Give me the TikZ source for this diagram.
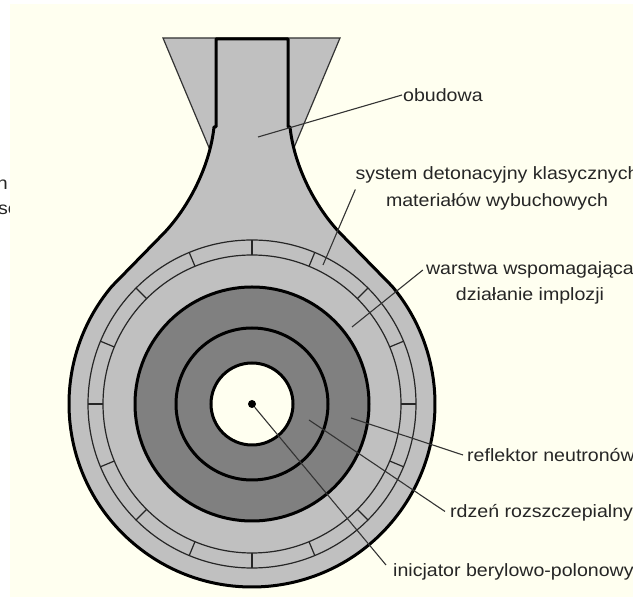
\documentclass[tikz,border=0pt]{standalone}
\usepackage{fontspec}
\setmainfont[FakeStretch=1.1]{Liberation Sans}
\usepackage{xcolor}
\usetikzlibrary{calc, positioning}
\definecolor{paper}{HTML}{FFFFF0}
\definecolor{lightgrey}{HTML}{C0C0C0}
\definecolor{darkgrey}{HTML}{808080}

\begin{document}
\begin{tikzpicture}[
	x=1pt, y=1pt,
	font=\fontsize{17.8}{26.5}\selectfont,
	lab/.style={inner sep=1pt, align=center, text=black!85},
	shell/.style={fill=lightgrey, draw=black, line width=3pt, line join=round},
	ball/.style={draw=black, line width=3pt},
	ring/.style={draw=black!85, line width=1.2pt},
	leader/.style={draw=black!80, line width=1.1pt}
]
\useasboundingbox (0,0) rectangle (633,597);

% cut off text on the left margin
\node[lab, anchor=east] (cutA) at (9,412) {n};
\node[lab, anchor=east] (cutB) at (20,387) {se};
\fill[paper] (10,0) rectangle (633,593);

\coordinate (ctr) at (252,193);

% casing
\draw[fill=lightgrey, draw=black!80, line width=1.2pt] (163,559) -- (340,559) -- (293,447) -- (210,447) -- cycle;
\draw[shell] (216,558) -- (216,470) -- (214,470) .. controls (210,432) and (190,392) .. (165,365)
	-- ($(ctr)+(140:183)$) arc[start angle=140, end angle=400, radius=183]
	-- (339,365) .. controls (314,392) and (294,432) .. (290,470) -- (288,470) -- (288,558) -- cycle;

% detonator ring
\draw[ring] (ctr) circle[radius=164];
\draw[ring] (ctr) circle[radius=149];
\foreach \ang in {0,22.5,...,337.5} {
	\draw[ring] ($(ctr)+(\ang:149)$) -- ($(ctr)+(\ang:164)$);
}

% core
\draw[ball, fill=darkgrey] (ctr) circle[radius=117];
\draw[ball] (ctr) circle[radius=76];
\draw[ball, fill=paper] (ctr) circle[radius=41];
\node[circle, fill=black, inner sep=0pt, minimum size=8pt] (init) at (ctr) {};

% labels
\node[lab, anchor=west] (obudowa) at (402,502) {obudowa};
\node[lab, anchor=center] (system) at (497,408.5) {system detonacyjny klasycznych\\materiałów wybuchowych};
\node[lab, anchor=center] (warstwa) at (530,314) {warstwa wspomagająca\\działanie implozji};
\node[lab, anchor=west] (reflektor) at (466,142) {reflektor neutronów};
\node[lab, anchor=west] (rdzen) at (449,84.5) {rdzeń rozszczepialny};
\node[lab, anchor=west] (inicjator) at (392,25) {inicjator berylowo-polonowy};

\coordinate (pObudowa) at (258,460);
\coordinate (pSystem) at (323,332);
\coordinate (pWarstwa) at (352,270);
\coordinate (pReflektor) at (351,179);
\coordinate (pRdzen) at (309,177);

\draw[leader] (pObudowa) -- (obudowa.west);
\draw[leader] (pSystem) -- ([xshift=1pt,yshift=-1pt]system.west);
\draw[leader] (pWarstwa) -- ([xshift=-2pt,yshift=13pt]warstwa.west);
\draw[leader] (pReflektor) -- ([xshift=-3pt]reflektor.west);
\draw[leader] (pRdzen) -- ([xshift=-4pt,yshift=1pt]rdzen.west);
\draw[leader] (init) -- ([xshift=-6pt,yshift=7pt]inicjator.west);

\end{tikzpicture}
\end{document}
